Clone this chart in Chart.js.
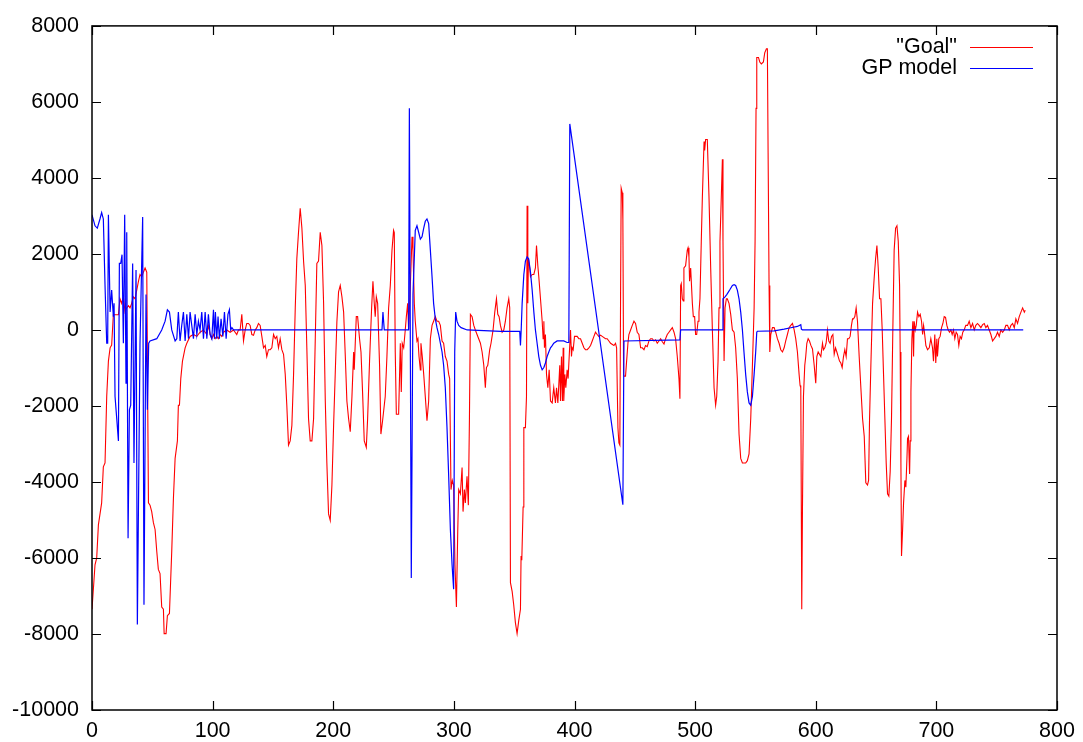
<!DOCTYPE html>
<html>
<head>
<meta charset="utf-8">
<script src="https://cdn.jsdelivr.net/npm/chart.js@4/dist/chart.umd.min.js"></script>
<style>
  html, body { margin: 0; padding: 0; background: #fff; }
  #wrap { width: 1083px; height: 742px; }
</style>
</head>
<body>
<div id="wrap"><canvas id="chart" width="1083" height="742"></canvas></div>
<script>
// values, [x, y]
const goalData = [[0,-7350],[2.5,-6180],[3.9,-6000],[5.3,-5130],[8,-4550],[9.4,-3600],[10.8,-3500],[12.2,-1750],[13.6,-820],[15,-470],[16.3,-400],[17.7,400],[19.1,400],[21.9,400],[23.2,820],[24.6,700],[26,870],[27.4,470],[28.8,580],[30.2,640],[31.5,580],[32.9,700],[34.3,870],[35.7,820],[38.5,1280],[39.8,1460],[41.2,1400],[42.6,1520],[44,1630],[45.4,1520],[46.8,-4550],[48.1,-4610],[49.5,-4780],[50.9,-5070],[52.3,-5250],[53.7,-5830],[55,-6300],[56.4,-6410],[57.8,-7290],[59.2,-7350],[59.8,-7990],[61.4,-7990],[62.5,-7520],[64.2,-7460],[66.1,-5830],[67.5,-4430],[68.9,-3380],[70.8,-2920],[71.6,-1980],[72.5,-1980],[73.6,-1280],[75,-820],[77.2,-470],[78.6,-350],[81.3,-170],[84.1,-120],[86.9,-170],[89.6,-60],[92.4,0],[95.2,-120],[96.5,120],[98,-120],[99.3,-230],[100.7,-120],[102.1,-230],[103.4,-170],[104.8,-230],[106.2,-120],[107.6,-170],[109,-60],[111.7,0],[114.5,-60],[117.3,0],[120,-120],[121.4,0],[122.8,0],[124.2,410],[125.6,-290],[127,0],[128.3,170],[129.7,170],[131.1,120],[132.5,-120],[133.9,-140],[135.3,0],[136.6,60],[138,170],[139.4,120],[140.8,-170],[142.2,-470],[143.6,-410],[144.9,-700],[146.3,-520],[147.7,-520],[149.1,-470],[150.5,-120],[151.9,-230],[153.2,-170],[154.6,-470],[156,-230],[157.4,-520],[158.8,-640],[160.2,-1170],[161.5,-1980],[162.9,-3030],[164.3,-2920],[165.7,-2510],[167.1,-1170],[168.5,580],[169.8,1870],[171.2,2570],[172.6,3200],[174,2680],[175.4,1810],[176.8,1170],[178.1,-470],[179.5,-2330],[180.9,-2920],[182.3,-2920],[183.7,-2330],[185.1,-230],[186.4,1750],[187.8,1810],[189.2,2570],[190.6,2220],[192,700],[193.4,-1870],[194.7,-3500],[196.1,-4840],[197.5,-5010],[198.9,-4080],[200.3,-2500],[201.6,-1200],[203,200],[204.4,1000],[205.8,1170],[207.2,870],[208.6,470],[210,-700],[211.3,-1870],[212.7,-2330],[214.1,-2680],[215.5,-1750],[216.9,-580],[217.4,-1050],[219.1,350],[220.2,350],[221.8,-230],[223,-580],[224.3,-1630],[225.7,-2920],[227.4,-3090],[228.5,-2330],[230.1,-820],[231.8,580],[232.9,1280],[234,700],[234.8,350],[235.7,870],[236.8,700],[238.4,-930],[239.5,-2740],[240.9,-2390],[242.3,-1980],[243.1,-1750],[244.5,-700],[245.9,580],[247.3,1170],[248.7,2100],[250,2620],[250.6,2560],[251.4,-580],[252.3,-2220],[254.2,-2220],[255.6,-350],[256.4,-1630],[257.2,-350],[258.4,-470],[259.7,0],[260.6,350],[261.7,700],[262.5,0],[263.9,1170],[265.3,2450],[266.1,2100],[267.2,700],[268,230],[269.4,-290],[270.2,-230],[271.1,-700],[272.2,-1050],[272.7,-350],[273.8,-700],[275,-1170],[276.3,-1750],[277.7,-2390],[279.1,-1870],[280.5,-230],[281.9,120],[283.2,230],[284.6,350],[286,230],[287.4,230],[288.8,120],[290.2,-290],[291.5,-350],[292.9,-700],[294.3,-820],[295.7,-1170],[296.5,-1280],[297.6,-4200],[298.7,-3960],[299.8,-4080],[300.9,-6180],[302.1,-7290],[303.2,-5300],[304,-4200],[305.4,-4310],[306.8,-3620],[307.6,-4780],[308.7,-4200],[309.5,-4550],[310.9,-3850],[312,-4610],[312.9,-2330],[313.7,410],[315.1,350],[316.5,120],[317.8,0],[319.2,-120],[322,-350],[323.4,-580],[324.8,-930],[326.1,-1520],[327,-990],[328.1,-930],[329.7,-520],[330.8,-350],[332.5,0],[333.9,470],[335.3,820],[336.4,410],[337.5,350],[338.6,120],[340,-60],[341.4,0],[342.7,230],[344.1,580],[345.5,820],[346.3,580],[346.9,-6650],[348.3,-6880],[349.6,-7230],[351,-7700],[352.4,-7990],[353.8,-7640],[355.2,-7350],[355.7,-5950],[356.3,-6060],[357.4,-4660],[358,-2570],[359.3,-2570],[360.2,-1750],[360.7,3270],[361.3,700],[361.8,1870],[362.9,1630],[363.5,1400],[364.9,1460],[366.3,1460],[367.6,1630],[368.5,2220],[369.6,1690],[370.4,1400],[371.8,820],[373.2,230],[374,-230],[374.6,230],[375.1,-470],[375.9,-120],[376.8,-1170],[377.9,-1520],[379,-1050],[380.1,-1870],[381.5,-1920],[382.8,-1520],[384.2,-1920],[385.1,-1520],[386.2,-1920],[387.8,-930],[388.4,-1870],[389.2,-700],[390,-1870],[390.6,-470],[391.1,-1870],[392,-1170],[392.8,-1520],[393.9,-1050],[394.7,-1280],[395.6,-700],[396.7,0],[397.5,-700],[398.1,-470],[398.9,-520],[400,-170],[402.2,-170],[403.6,-230],[405,-230],[406.4,-350],[407.8,-470],[409.1,-520],[410.5,-520],[411.9,-470],[413.3,-410],[414.7,-290],[416.1,-170],[417.4,-60],[418.8,-120],[420.2,-170],[421.6,-140],[423,-170],[425.7,-230],[427.1,-230],[428.5,-290],[429.9,-350],[432.7,-410],[434,-350],[434.9,-470],[436,-2570],[436.8,-2970],[437.6,-3030],[438.2,930],[438.7,3730],[439.6,3610],[440.1,2920],[440.7,-1170],[441.2,-1220],[442.3,-1220],[443.2,-820],[444.3,-350],[445.1,-120],[446.5,0],[447.9,120],[449.3,230],[450.6,170],[452,-60],[453.4,-120],[454.8,-470],[456.2,-470],[457.6,-520],[458.9,-410],[460.3,-440],[461.7,-290],[463.1,-230],[464.5,-230],[465.9,-290],[467.2,-260],[468.6,-350],[470,-290],[471.4,-230],[472.8,-310],[474.2,-370],[475.5,-230],[476.9,-120],[478.3,-60],[479.7,0],[481.1,60],[482.5,-60],[483.8,-230],[485.2,-700],[486.6,-1280],[487.4,-1810],[488,1170],[488.5,1220],[489.4,820],[490.2,760],[490.7,1630],[492.1,1690],[493.5,2100],[494.1,2160],[494.9,1920],[495.4,1280],[496.3,1630],[497.7,700],[498.5,350],[499.6,350],[500.4,-120],[501.3,-120],[502.4,230],[503.2,470],[504,820],[505.1,2330],[506,3500],[507.4,4960],[507.9,4720],[508.7,5010],[510.1,5010],[511.5,3500],[512.9,1630],[514.3,0],[515.7,-1520],[517,-1980],[517.9,-1750],[519,-820],[519.8,580],[520.6,2330],[521.7,3500],[522.6,4490],[523.1,2330],[524,-820],[524.8,580],[525.9,820],[526.7,820],[528.1,700],[529.5,410],[530.9,0],[532.3,-60],[533.6,-470],[535,-1280],[536.4,-2740],[537.8,-3380],[539.2,-3500],[541.9,-3500],[543.3,-3440],[544.7,-3260],[546.1,-2330],[547.5,-930],[548.9,580],[549.7,2330],[550.5,5830],[551.1,7170],[552.5,7170],[553.6,7050],[554.9,7000],[556.6,7050],[557.7,7290],[559.1,7400],[559.9,7400],[560.5,4660],[561.3,1170],[561.9,-580],[562.7,-120],[564.1,60],[565.5,60],[566.8,-60],[568.2,-230],[569.6,-350],[571,-520],[572.4,-580],[573.8,-470],[575.1,-290],[576.5,-120],[577.9,60],[579.3,120],[580.7,170],[582.1,0],[583.4,-230],[584.8,-580],[586.2,-1170],[587,-1460],[587.6,-1520],[588.4,-7350],[589,-4660],[589.8,-1750],[590.9,-930],[591.7,-700],[592.6,-350],[593.7,-230],[594.8,-290],[595.9,-400],[597.3,-500],[598.7,-930],[600,-1400],[600.9,-700],[602,-580],[603.1,-640],[604.2,-700],[605.6,-350],[606.4,-520],[607.5,-470],[608.6,-350],[609.7,0],[610.8,-290],[611.9,-350],[613.1,-170],[614.2,-120],[615.3,-640],[616.4,-470],[617.5,-580],[618.6,-700],[619.7,-820],[620.8,-870],[621.9,-990],[623,-700],[624.1,-520],[625.2,-700],[626.3,-230],[627.4,-230],[628.5,-170],[629.6,120],[630.5,290],[631.3,290],[632.4,350],[633.5,580],[634.6,230],[636,-700],[637.4,-1520],[638.8,-2330],[640.2,-2800],[641.5,-4020],[642.9,-4080],[643.8,-3960],[644.6,-2330],[645.7,-930],[647.1,700],[648.5,1400],[649.6,1870],[650.7,2220],[651.8,1630],[652.9,820],[654,820],[655.1,0],[656.2,-1170],[657.3,-2330],[658.4,-3500],[659.5,-4310],[660.6,-4370],[661.7,-3730],[662.8,-2330],[663.9,0],[665,2100],[666.2,2680],[667.3,2740],[668.4,2330],[669.5,1170],[670,-580],[670.6,-3500],[671.1,-5950],[672,-5250],[672.8,-4550],[673.9,-3960],[674.7,-4140],[675.6,-3380],[676.1,-2860],[676.9,-2800],[677.8,-3790],[678.3,-2920],[678.9,-1630],[679.7,-230],[680.5,230],[681.1,-700],[681.6,230],[682.5,0],[683.3,120],[684.4,470],[685.5,350],[686.6,410],[687.7,230],[688.6,-120],[689.4,120],[689.9,0],[691.3,-410],[692.7,-520],[694.1,-470],[695.4,-230],[696.8,-470],[697.6,-820],[698.7,-120],[699.5,-870],[700.4,-230],[700.9,-700],[702,-230],[703.1,-170],[704.3,60],[705.4,170],[706.5,350],[707.6,330],[708.7,120],[709.8,0],[710.9,-60],[712,0],[713.1,-120],[714.2,0],[715.3,-230],[716.4,-60],[717.5,-120],[718.6,-410],[719.7,-170],[720.8,-230],[721.9,-60],[723,0],[724.4,120],[725.8,120],[727.2,230],[728.6,60],[730,170],[731.4,0],[732.7,120],[734.1,170],[735.5,120],[736.9,60],[738.3,140],[739.7,170],[741,60],[742.4,120],[743.8,0],[745.2,-120],[746.6,-290],[748,-230],[749.3,-170],[750.7,-60],[752.1,-170],[753.5,0],[754.9,-60],[756.3,0],[757.6,120],[759,120],[760.4,0],[761.8,120],[763.2,170],[764.6,60],[765.9,290],[767.3,170],[768.7,350],[770.1,470],[771.5,580],[772.9,470],[773.7,520]];

const gpData = [[0,3030],[2.5,2740],[4.4,2680],[6.6,2920],[8,3090],[9.4,2920],[10.8,1170],[12.2,-350],[13,-350],[13.6,3030],[15,470],[16.3,1050],[17.7,350],[18.3,700],[19.1,-1750],[20.5,-2330],[21.9,-2920],[22.7,1750],[23.8,1750],[24.9,1980],[26,-350],[27.1,3030],[28.2,-1400],[28.8,2570],[29.9,-5480],[31,-2100],[32.1,-1980],[33.7,1750],[34.8,-3500],[36.5,1580],[37.6,-7750],[39.8,-350],[42,2970],[43.1,-7230],[44.8,930],[45.9,-2100],[47,-350],[48.1,-290],[53.7,-230],[57.8,0],[60.6,230],[62.5,530],[64.2,470],[66.1,0],[68.9,-290],[70.3,-230],[71.6,470],[73,-290],[74.4,120],[75.8,470],[77.2,-290],[78.6,410],[80,-230],[81.3,470],[82.7,120],[84.1,-230],[85.5,410],[86.9,-120],[88.2,230],[89.6,0],[91,470],[92.4,-230],[93.8,470],[95.2,-230],[96.5,410],[97.9,-120],[99.3,-230],[100.7,530],[101.5,-230],[102.3,470],[103.4,-230],[104.5,350],[105.6,-230],[107,290],[108.5,-170],[109.8,470],[111.2,-230],[112.7,410],[113.9,530],[115,0],[116,60],[117.3,0],[240.4,0],[241.2,470],[242.3,0],[262.5,0],[263.1,5830],[264.7,-6530],[266.1,930],[268,2620],[269.4,2740],[270.8,2570],[272.2,2390],[273.6,2450],[275,2680],[276.3,2860],[277.7,2920],[279.1,2800],[280.5,2100],[281.9,1400],[283.2,700],[284.6,290],[286,60],[287.4,-120],[288.8,-350],[290.2,-580],[291.5,-930],[292.9,-1520],[294.3,-2570],[295.7,-3850],[297.1,-5250],[298.5,-6180],[299.8,-6820],[300.7,-580],[301.5,470],[302.6,230],[304,120],[306,60],[311,0],[325,-20],[339,-40],[354.6,-40],[355.2,-410],[355.8,0],[356.6,700],[358,1460],[359.3,1810],[360.7,1920],[362,1870],[363.5,1520],[364.9,1050],[366.3,470],[367.6,0],[369,-350],[370.4,-700],[371.8,-930],[373.2,-1050],[374.6,-990],[375.9,-870],[377.3,-700],[378.7,-580],[380.1,-470],[381.5,-410],[382.8,-350],[385.6,-290],[388.4,-290],[391.1,-290],[393.9,-330],[395.3,-330],[396.1,5420],[440.1,-4600],[441,-290],[487.4,-260],[488,0],[522.6,0],[523.1,820],[524.8,870],[526.2,930],[527.4,990],[529,1070],[530.9,1170],[532.3,1190],[533.6,1170],[535,1050],[536.4,820],[537.8,470],[539.2,0],[540.5,-580],[541.9,-1170],[543.3,-1630],[544.7,-1920],[546.1,-1980],[547.5,-1750],[548.9,-1170],[550.2,-580],[551.1,-60],[551.6,-35],[565.5,-23],[573.8,23],[579.3,58],[584.8,93],[587.6,140],[588.1,23],[589,0],[772,0]];

const seriesNames = ['"Goal"', 'GP model'];
const seriesColors = ['#ff0000', '#0000ff'];
const xRange = [0, 800, 100];
const yRange = [-10000, 8000, 2000];

const FONT = { family: 'Liberation Sans, Arial, sans-serif', size: 21.5 };

const toPoints = arr => arr.map(p => ({ x: p[0], y: p[1] }));

// gnuplot style frame with inward ticks on all four sides, plus key
const framePlugin = {
  id: 'frame',
  afterDraw(chart) {
    const ctx = chart.ctx;
    const a = chart.chartArea;
    const xs = chart.scales.x, ys = chart.scales.y;
    const tl = 9;
    ctx.save();
    ctx.strokeStyle = '#000';
    ctx.lineWidth = 1.5;
    ctx.strokeRect(a.left, a.top, a.right - a.left, a.bottom - a.top);
    ctx.lineWidth = 1.2;
    ctx.beginPath();
    xs.ticks.forEach(t => {
      const px = Math.round(xs.getPixelForValue(t.value)) + 0.5;
      ctx.moveTo(px, a.bottom); ctx.lineTo(px, a.bottom - tl);
      ctx.moveTo(px, a.top); ctx.lineTo(px, a.top + tl);
    });
    ys.ticks.forEach(t => {
      const py = Math.round(ys.getPixelForValue(t.value)) + 0.5;
      ctx.moveTo(a.left, py); ctx.lineTo(a.left + tl, py);
      ctx.moveTo(a.right, py); ctx.lineTo(a.right - tl, py);
    });
    ctx.stroke();

    // key, top right
    ctx.font = FONT.size + 'px ' + FONT.family;
    ctx.textAlign = 'right';
    ctx.textBaseline = 'middle';
    chart.data.datasets.forEach((ds, i) => {
      const y = a.top + 21 + i * 21;
      ctx.fillStyle = '#000';
      ctx.fillText(ds.label, a.right - 100, y);
      ctx.strokeStyle = ds.borderColor;
      ctx.lineWidth = 1;
      ctx.beginPath();
      ctx.moveTo(a.right - 87, Math.round(y) + 0.5);
      ctx.lineTo(a.right - 24, Math.round(y) + 0.5);
      ctx.stroke();
    });
    ctx.restore();
  }
};

new Chart(document.getElementById('chart'), {
  type: 'line',
  data: {
    datasets: [
      { label: seriesNames[0], data: toPoints(goalData), borderColor: seriesColors[0], borderWidth: 1.1, pointRadius: 0, fill: false, tension: 0, order: 1 },
      { label: seriesNames[1], data: toPoints(gpData), borderColor: seriesColors[1], borderWidth: 1.2, pointRadius: 0, fill: false, tension: 0, order: 0 }
    ]
  },
  options: {
    responsive: false,
    devicePixelRatio: 1,
    animation: false,
    layout: { padding: { top: 20, right: 26, left: 0, bottom: 0 } },
    plugins: { legend: { display: false }, tooltip: { enabled: false } },
    scales: {
      x: {
        type: 'linear', min: xRange[0], max: xRange[1],
        grid: { display: false, drawTicks: false },
        border: { display: false },
        ticks: { stepSize: xRange[2], color: '#000', font: FONT, padding: 8, maxRotation: 0, autoSkip: false,
                 callback: v => String(v) },
        afterFit(s) { s.height = 32; }
      },
      y: {
        type: 'linear', min: yRange[0], max: yRange[1],
        grid: { display: false, drawTicks: false },
        border: { display: false },
        ticks: { stepSize: yRange[2], color: '#000', font: FONT, padding: 13, autoSkip: false,
                 callback: v => String(v) },
        afterFit(s) { s.width = 92; }
      }
    }
  },
  plugins: [framePlugin]
});
</script>
</body>
</html>
